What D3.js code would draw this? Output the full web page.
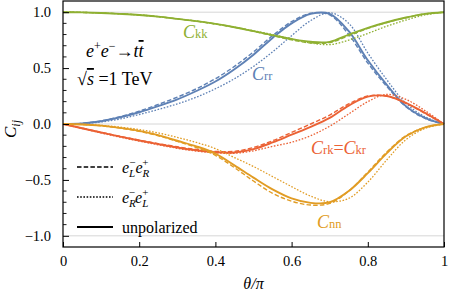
<!DOCTYPE html>
<html>
<head>
<meta charset="utf-8">
<script src="https://cdn.jsdelivr.net/npm/d3@7"></script>
<style>
  html, body { margin: 0; padding: 0; background: #fff; }
  svg text { font-family: "Liberation Serif", "DejaVu Serif", serif; }
</style>
</head>
<body>
<div id="chart"></div>
<script>
// theta / pi sample points
const theta = [0, .05, .1, .15, .2, .25, .3, .35, .4, .45, .5, .55, .6, .65, .7, .75, .8, .85, .9, .95, 1];

// C_kk
const ckkUnpol = [1.0, 0.998, 0.993, 0.985, 0.975, 0.96, 0.94, 0.92, 0.895, 0.865, 0.83, 0.795, 0.76, 0.735, 0.735, 0.8, 0.86, 0.91, 0.952, 0.985, 1.0];
const ckkLR    = [1.0, 0.998, 0.993, 0.985, 0.975, 0.96, 0.94, 0.92, 0.895, 0.865, 0.83, 0.79, 0.752, 0.725, 0.728, 0.79, 0.855, 0.908, 0.95, 0.985, 1.0];
const ckkRL    = [1.0, 0.998, 0.993, 0.985, 0.975, 0.96, 0.94, 0.92, 0.895, 0.866, 0.834, 0.8, 0.76, 0.725, 0.71, 0.75, 0.81, 0.875, 0.93, 0.975, 1.0];
// C_rr
const crrUnpol = [0, 0.005, 0.025, 0.06, 0.105, 0.16, 0.22, 0.295, 0.38, 0.49, 0.62, 0.77, 0.9, 0.985, 0.985, 0.83, 0.57, 0.35, 0.16, 0.055, 0];
const crrLR    = [0, 0.006, 0.028, 0.066, 0.115, 0.175, 0.24, 0.315, 0.405, 0.515, 0.645, 0.79, 0.915, 0.99, 0.975, 0.8, 0.545, 0.335, 0.155, 0.05, 0];
const crrRL    = [0, 0.003, 0.018, 0.045, 0.085, 0.13, 0.18, 0.24, 0.315, 0.405, 0.515, 0.645, 0.79, 0.925, 0.995, 0.9, 0.635, 0.395, 0.185, 0.065, 0];
// C_rk = C_kr
const crkUnpol = [0, -0.038, -0.076, -0.113, -0.148, -0.18, -0.21, -0.235, -0.252, -0.255, -0.225, -0.165, -0.095, -0.025, 0.055, 0.165, 0.245, 0.25, 0.19, 0.1, 0];
const crkLR    = [0, -0.037, -0.074, -0.11, -0.144, -0.175, -0.204, -0.228, -0.245, -0.245, -0.21, -0.15, -0.075, 0.0, 0.08, 0.18, 0.25, 0.25, 0.185, 0.095, 0];
const crkRL    = [0, -0.04, -0.08, -0.118, -0.153, -0.186, -0.217, -0.242, -0.258, -0.262, -0.24, -0.2, -0.163, -0.105, -0.02, 0.09, 0.2, 0.265, 0.22, 0.12, 0];
// C_nn
const cnnUnpol = [0, -0.004, -0.015, -0.035, -0.062, -0.1, -0.15, -0.2, -0.265, -0.37, -0.48, -0.585, -0.665, -0.705, -0.7, -0.6, -0.44, -0.26, -0.11, -0.03, 0];
const cnnLR    = [0, -0.004, -0.016, -0.037, -0.065, -0.105, -0.155, -0.21, -0.28, -0.39, -0.51, -0.62, -0.69, -0.725, -0.71, -0.6, -0.43, -0.25, -0.105, -0.03, 0];
const cnnRL    = [0, -0.003, -0.012, -0.028, -0.05, -0.08, -0.12, -0.165, -0.22, -0.3, -0.38, -0.47, -0.56, -0.645, -0.695, -0.665, -0.52, -0.32, -0.14, -0.04, 0];

const xTicks = [0, 0.2, 0.4, 0.6, 0.8, 1];
const xTickLabels = ['0', '0.2', '0.4', '0.6', '0.8', '1'];
const yTicks = [-1, -0.5, 0, 0.5, 1];
const yTickLabels = ['\u22121.0', '\u22120.5', '0.0', '0.5', '1.0'];
const gridVals = [-1, 0, 1];

const COLORS = { kk: '#8fb032', rr: '#5e81b5', rk: '#eb6235', nn: '#e19c24' };

const series = [
  { key: 'rr', style: 'solid',  vals: crrUnpol },
  { key: 'rr', style: 'dashed', vals: crrLR },
  { key: 'rr', style: 'dotted', vals: crrRL },
  { key: 'kk', style: 'solid',  vals: ckkUnpol },
  { key: 'kk', style: 'dashed', vals: ckkLR },
  { key: 'kk', style: 'dotted', vals: ckkRL },
  { key: 'rk', style: 'solid',  vals: crkUnpol },
  { key: 'rk', style: 'dashed', vals: crkLR },
  { key: 'rk', style: 'dotted', vals: crkRL },
  { key: 'nn', style: 'solid',  vals: cnnUnpol },
  { key: 'nn', style: 'dashed', vals: cnnLR },
  { key: 'nn', style: 'dotted', vals: cnnRL }
];

const SERIF = '"Liberation Serif", "DejaVu Serif", serif';
const W = 449, H = 297;
const M = { top: 1, right: 5, bottom: 50, left: 63 };

const svg = d3.select('#chart').append('svg')
  .attr('width', W).attr('height', H);

const x = d3.scaleLinear().domain([0, 1]).range([M.left, W - M.right]);
const y = d3.scaleLinear().domain([-1.1, 1.1]).range([H - M.bottom, M.top]);

// grid lines
svg.append('g').selectAll('line')
  .data(gridVals)
  .join('line')
    .attr('x1', x(0)).attr('x2', x(1))
    .attr('y1', d => y(d)).attr('y2', d => y(d))
    .attr('stroke', '#d6d6d6').attr('stroke-width', 1);

// curves
const line = d3.line()
  .x((d, i) => x(theta[i]))
  .y(d => y(d))
  .curve(d3.curveCatmullRom.alpha(0.5));

const dash = { solid: null, dashed: '4.5,2.2', dotted: '1.6,1.6' };
const width = { solid: 1.9, dashed: 1.4, dotted: 1.3 };

svg.append('g').selectAll('path')
  .data(series)
  .join('path')
    .attr('d', d => line(d.vals))
    .attr('fill', 'none')
    .attr('stroke', d => COLORS[d.key])
    .attr('stroke-width', d => width[d.style])
    .attr('stroke-dasharray', d => dash[d.style]);

// frame
svg.append('rect')
  .attr('x', x(0)).attr('y', y(1.1))
  .attr('width', x(1) - x(0)).attr('height', y(-1.1) - y(1.1))
  .attr('fill', 'none').attr('stroke', '#000').attr('stroke-width', 1.2);

// left axis ticks (major + minor, inward)
const yAxis = d3.axisLeft(y).tickValues(yTicks).tickSize(-6)
  .tickFormat((d, i) => yTickLabels[i]).tickPadding(12);
svg.append('g').attr('transform', `translate(${x(0)},0)`)
  .call(yAxis)
  .attr('font-family', null)
  .call(g => g.select('.domain').remove())
  .call(g => g.selectAll('text').attr('font-size', 14.5).style('font-family', SERIF))
  .call(g => g.selectAll('line').attr('stroke-width', 1));

const minorY = d3.range(-10, 11).map(v => v / 10).filter(v => Math.abs(v * 2 - Math.round(v * 2)) > 1e-6);
svg.append('g').selectAll('line')
  .data(minorY)
  .join('line')
    .attr('x1', x(0)).attr('x2', x(0) + 3.5)
    .attr('y1', d => y(d)).attr('y2', d => y(d))
    .attr('stroke', '#000').attr('stroke-width', 0.9);

// bottom axis ticks (inward)
const xAxis = d3.axisBottom(x).tickValues(xTicks).tickSize(-5)
  .tickFormat((d, i) => xTickLabels[i]).tickPadding(9);
svg.append('g').attr('transform', `translate(0,${y(-1.1)})`)
  .call(xAxis)
  .attr('font-family', null)
  .call(g => g.select('.domain').remove())
  .call(g => g.selectAll('text').attr('font-size', 14.5).style('font-family', SERIF))
  .call(g => g.selectAll('line').attr('stroke-width', 1));

// axis titles
svg.append('text')
  .attr('transform', `translate(16,${y(0) + 5}) rotate(-90)`)
  .attr('text-anchor', 'middle')
  .attr('font-size', 17).attr('font-style', 'italic')
  .html('C<tspan font-size="12" dy="4">ij</tspan>');

svg.append('text')
  .attr('x', (x(0) + x(1)) / 2).attr('y', 289)
  .attr('text-anchor', 'middle')
  .attr('font-size', 16).attr('font-style', 'italic')
  .text('\u03b8/\u03c0');

// process annotation
svg.append('text')
  .attr('x', 86).attr('y', 57).attr('font-size', 18)
  .html('<tspan font-style="italic">e</tspan><tspan font-size="12" dy="-7">+</tspan>' +
        '<tspan font-style="italic" dy="7">e</tspan><tspan font-size="12" dy="-7">\u2212</tspan>' +
        '<tspan dy="7">\u2192</tspan><tspan font-style="italic">t</tspan><tspan font-style="italic" text-decoration="overline">t</tspan>');

svg.append('text')
  .attr('x', 77).attr('y', 85).attr('font-size', 18)
  .html('\u221a<tspan font-style="italic" text-decoration="overline">s</tspan> =1 TeV');

// curve labels
function curveLabel(xp, yp, color, parts) {
  const t = svg.append('text').attr('x', xp).attr('y', yp)
    .attr('font-size', 18).style('fill', color);
  parts.forEach(p => {
    if (p.sub) t.append('tspan').attr('font-size', 12.5).text(p.sub);
    else if (p.it) t.append('tspan').attr('font-style', 'italic').text(p.it);
    else t.append('tspan').text(p.txt);
  });
}
curveLabel(183, 38, COLORS.kk, [{ it: 'C' }, { sub: 'kk' }]);
curveLabel(252, 80, COLORS.rr, [{ it: 'C' }, { sub: 'rr' }]);
curveLabel(311, 154, COLORS.rk, [{ it: 'C' }, { sub: 'rk' }, { txt: '=' }, { it: 'C' }, { sub: 'kr' }]);
curveLabel(317, 228, COLORS.nn, [{ it: 'C' }, { sub: 'nn' }]);

// legend
const legendRows = [
  { style: 'dashed', y: 167, html: '<tspan font-style="italic">e</tspan><tspan font-size="11" dy="4" font-style="italic">L</tspan><tspan font-size="11" dx="-6" dy="-11">\u2212</tspan><tspan font-style="italic" dy="7">e</tspan><tspan font-size="11" dy="4" font-style="italic">R</tspan><tspan font-size="11" dx="-7" dy="-11">+</tspan>' },
  { style: 'dotted', y: 197, html: '<tspan font-style="italic">e</tspan><tspan font-size="11" dy="4" font-style="italic">R</tspan><tspan font-size="11" dx="-7" dy="-11">\u2212</tspan><tspan font-style="italic" dy="7">e</tspan><tspan font-size="11" dy="4" font-style="italic">L</tspan><tspan font-size="11" dx="-6" dy="-11">+</tspan>' },
  { style: 'solid',  y: 227, html: 'unpolarized' }
];
const lg = svg.append('g');
lg.selectAll('line')
  .data(legendRows)
  .join('line')
    .attr('x1', 77).attr('x2', 113)
    .attr('y1', d => d.y).attr('y2', d => d.y)
    .attr('stroke', '#000')
    .attr('stroke-width', d => d.style === 'solid' ? 2 : 1.3)
    .attr('stroke-dasharray', d => dash[d.style]);
lg.selectAll('text')
  .data(legendRows)
  .join('text')
    .attr('x', 122).attr('y', d => d.y + 6)
    .attr('font-size', 16)
    .html(d => d.html);
</script>
</body>
</html>
